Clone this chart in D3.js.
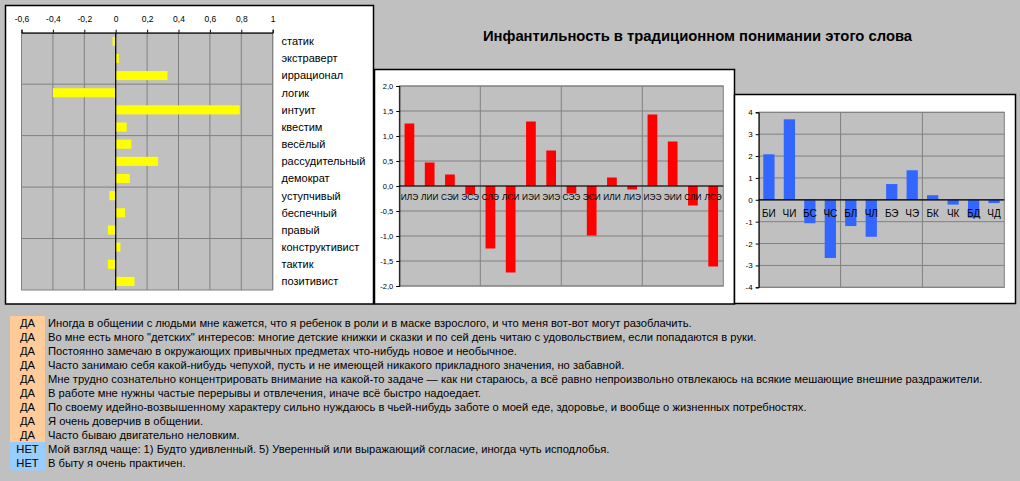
<!DOCTYPE html>
<html>
<head>
<meta charset="utf-8">
<script src="https://cdn.jsdelivr.net/npm/d3@7"></script>
<style>
  html, body { margin: 0; padding: 0; background: #c0c0c0; }
  svg { display: block; font-family: "Liberation Sans", Arial, sans-serif; }
</style>
</head>
<body>
<svg id="chart" width="1020" height="481"></svg>
<script>
// ---- data ----
const traits = ["статик", "экстраверт", "иррационал", "логик", "интуит", "квестим", "весёлый",
  "рассудительный", "демократ", "уступчивый", "беспечный", "правый", "конструктивист", "тактик", "позитивист"];
const traitValues = [-0.02, 0.02, 0.33, -0.40, 0.79, 0.07, 0.10, 0.27, 0.09, -0.04, 0.06, -0.05, 0.03, -0.05, 0.12];
const traitTicks = [-0.6, -0.4, -0.2, 0, 0.2, 0.4, 0.6, 0.8, 1];

const types = ["ИЛЭ", "ЛИИ", "СЭИ", "ЭСЭ", "СЛЭ", "ЛСИ", "ИЭИ", "ЭИЭ",
  "СЭЭ", "ЭСИ", "ИЛИ", "ЛИЭ", "ИЭЭ", "ЭИИ", "СЛИ", "ЛСЭ"];
const typeValues = [1.25, 0.47, 0.23, -0.17, -1.25, -1.73, 1.29, 0.71,
  -0.15, -0.99, 0.17, -0.07, 1.43, 0.89, -0.39, -1.61];
const typeTicks = [-2, -1.5, -1, -0.5, 0, 0.5, 1, 1.5, 2];

const functions = ["БИ", "ЧИ", "БС", "ЧС", "БЛ", "ЧЛ", "БЭ", "ЧЭ", "БК", "ЧК", "БД", "ЧД"];
const functionValues = [2.08, 3.68, -1.07, -2.66, -1.2, -1.69, 0.72, 1.35, 0.21, -0.22, -0.82, -0.15];
const functionTicks = [-4, -3, -2, -1, 0, 1, 2, 3, 4];

const answers = ["ДА", "ДА", "ДА", "ДА", "ДА", "ДА", "ДА", "ДА", "ДА", "НЕТ", "НЕТ"];
const statements = [
  "Иногда в общении с людьми мне кажется, что я ребенок в роли и в маске взрослого, и что меня вот-вот могут разоблачить.",
  "Во мне есть много \"детских\" интересов: многие детские книжки и сказки и по сей день читаю с удовольствием, если попадаются в руки.",
  "Постоянно замечаю в окружающих привычных предметах что-нибудь новое и необычное.",
  "Часто занимаю себя какой-нибудь чепухой, пусть и не имеющей никакого прикладного значения, но забавной.",
  "Мне трудно сознательно концентрировать внимание на какой-то задаче — как ни стараюсь, а всё равно непроизвольно отвлекаюсь на всякие мешающие внешние раздражители.",
  "В работе мне нужны частые перерывы и отвлечения, иначе всё быстро надоедает.",
  "По своему идейно-возвышенному характеру сильно нуждаюсь в чьей-нибудь заботе о моей еде, здоровье, и вообще о жизненных потребностях.",
  "Я очень доверчив в общении.",
  "Часто бываю двигательно неловким.",
  "Мой взгляд чаще: 1) Будто удивленный. 5) Уверенный или выражающий согласие, иногда чуть исподлобья.",
  "В быту я очень практичен."
];
const title = "Инфантильность в традиционном понимании этого слова";

// ---- helpers ----
const svg = d3.select("#chart");
const GRID = "#808080";
const comma = (f) => (d) => f(d).replace(".", ",").replace("−", "-");

function panel(x, y, w, h) {
  svg.append("rect").attr("x", x).attr("y", y).attr("width", w).attr("height", h)
    .attr("fill", "#fff").attr("stroke", "#000").attr("stroke-width", 1.5);
}

// vertical column chart (middle and right panels)
function columns(g, cats, vals, ticks, fmt, box, opt) {
  const y = d3.scaleLinear().domain([ticks[0], ticks[ticks.length - 1]]).range([box.y1, box.y0]);
  const x = d3.scaleBand().domain(cats).range([box.x0, box.x1])
    .paddingInner(opt.gap).paddingOuter(opt.gap / 2);

  g.append("rect").attr("x", box.x0).attr("y", box.y0)
    .attr("width", box.x1 - box.x0).attr("height", box.y1 - box.y0)
    .attr("fill", "#c0c0c0").attr("stroke", GRID);

  g.append("g").selectAll("line").data(ticks).join("line")
    .attr("x1", box.x0).attr("x2", box.x1)
    .attr("y1", (d) => y(d)).attr("y2", (d) => y(d))
    .attr("stroke", GRID);

  const step = x.step();
  const groups = d3.range(4, cats.length, 4);
  g.append("g").selectAll("line").data(groups).join("line")
    .attr("x1", (d) => box.x0 + d * step).attr("x2", (d) => box.x0 + d * step)
    .attr("y1", box.y0).attr("y2", box.y1)
    .attr("stroke", GRID);

  g.append("g").selectAll("rect").data(cats).join("rect")
    .attr("x", (d) => x(d))
    .attr("width", x.bandwidth())
    .attr("y", (d, i) => y(Math.max(0, vals[i])))
    .attr("height", (d, i) => Math.abs(y(vals[i]) - y(0)))
    .attr("fill", opt.color);

  const ax = g.append("g").attr("transform", `translate(${box.x0},0)`)
    .call(d3.axisLeft(y).tickValues(ticks).tickSize(3).tickPadding(3).tickFormat(fmt));
  ax.select(".domain").attr("stroke", "#000");
  ax.selectAll(".tick line").attr("stroke", "#000");
  ax.selectAll("text").attr("font-size", opt.tickFont).attr("fill", "#000")
    .attr("font-family", "Liberation Sans, Arial, sans-serif");

  g.append("line").attr("x1", box.x0).attr("x2", box.x1)
    .attr("y1", y(0)).attr("y2", y(0)).attr("stroke", "#000").attr("stroke-width", 1.2);

  g.append("g").selectAll("text").data(cats).join("text")
    .attr("x", (d) => x(d) + x.bandwidth() / 2)
    .attr("y", y(0) + opt.labelDy)
    .attr("text-anchor", "middle")
    .attr("font-size", opt.labelFont)
    .attr("fill", "#000")
    .text((d) => d);
}

// ---- panels ----
panel(5.5, 5.5, 368, 298.5);
panel(374.5, 69.5, 360, 234.5);
panel(734.5, 94.5, 281, 209);

// ---- left: horizontal bars ----
{
  const g = svg.append("g");
  const box = { x0: 21.5, x1: 272.7, y0: 32.7, y1: 290 };
  const x = d3.scaleLinear().domain([traitTicks[0], traitTicks[traitTicks.length - 1]]).range([box.x0, box.x1]);
  const y = d3.scaleBand().domain(traits).range([box.y0, box.y1]).paddingInner(0.47).paddingOuter(0.235);

  g.append("rect").attr("x", box.x0).attr("y", box.y0)
    .attr("width", box.x1 - box.x0).attr("height", box.y1 - box.y0)
    .attr("fill", "#c0c0c0").attr("stroke", GRID);

  g.append("g").selectAll("line").data(traitTicks).join("line")
    .attr("x1", (d) => x(d)).attr("x2", (d) => x(d))
    .attr("y1", box.y0).attr("y2", box.y1).attr("stroke", GRID);

  const step = y.step();
  g.append("g").selectAll("line").data(d3.range(3, traits.length, 3)).join("line")
    .attr("x1", box.x0).attr("x2", box.x1)
    .attr("y1", (d) => box.y0 + d * step).attr("y2", (d) => box.y0 + d * step)
    .attr("stroke", GRID);

  g.append("g").selectAll("rect").data(traits).join("rect")
    .attr("y", (d) => y(d))
    .attr("height", y.bandwidth())
    .attr("x", (d, i) => x(Math.min(0, traitValues[i])))
    .attr("width", (d, i) => Math.abs(x(traitValues[i]) - x(0)))
    .attr("fill", "#ffff00");

  g.append("line").attr("x1", x(0)).attr("x2", x(0))
    .attr("y1", box.y0).attr("y2", box.y1).attr("stroke", "#000").attr("stroke-width", 1.2);

  const ax = g.append("g").attr("transform", `translate(0,${box.y0})`)
    .call(d3.axisTop(x).tickValues(traitTicks).tickSize(3).tickPadding(8)
      .tickFormat((d) => String(+d.toFixed(1)).replace(".", ",")));
  ax.select(".domain").attr("stroke", "#000");
  ax.selectAll(".tick line").attr("stroke", "#000");
  ax.selectAll("text").attr("font-size", 8.5).attr("fill", "#000")
    .attr("font-family", "Liberation Sans, Arial, sans-serif");

  g.append("g").selectAll("text").data(traits).join("text")
    .attr("x", 281.5)
    .attr("y", (d) => y(d) + y.bandwidth() / 2)
    .attr("dy", "0.35em")
    .attr("font-size", 11)
    .attr("fill", "#000")
    .text((d) => d);
}

// ---- middle: types ----
columns(svg.append("g"), types, typeValues, typeTicks, comma(d3.format(".1f")),
  { x0: 399.3, x1: 723.3, y0: 86, y1: 286 },
  { color: "#ff0000", gap: 0.52, tickFont: 7.5, labelFont: 8.3, labelDy: 13.5 });

// ---- right: functions ----
columns(svg.append("g"), functions, functionValues, functionTicks, comma(d3.format("d")),
  { x0: 758.7, x1: 1004.3, y0: 112.3, y1: 287.3 },
  { color: "#3366ff", gap: 0.45, tickFont: 8, labelFont: 10, labelDy: 17 });

// ---- title ----
svg.append("text").attr("x", 697.5).attr("y", 41)
  .attr("text-anchor", "middle").attr("font-size", 14.8).attr("font-weight", "bold")
  .attr("fill", "#000").text(title);

// ---- statements list ----
{
  const rowH = 14;
  const top = 316;
  const rows = svg.append("g").selectAll("g").data(statements).join("g")
    .attr("transform", (d, i) => `translate(0,${top + i * rowH})`);
  rows.append("rect").attr("x", 10).attr("y", 0).attr("width", 35).attr("height", rowH + 0.5)
    .attr("fill", (d, i) => answers[i] === "ДА" ? "#ffcc99" : "#99ccff");
  rows.append("text").attr("x", 27.5).attr("y", 11).attr("text-anchor", "middle")
    .attr("font-size", 11.2).attr("fill", "#000").text((d, i) => answers[i]);
  rows.append("text").attr("x", 48).attr("y", 11)
    .attr("font-size", 11.2).attr("fill", "#000").text((d) => d);
}
</script>
</body>
</html>
